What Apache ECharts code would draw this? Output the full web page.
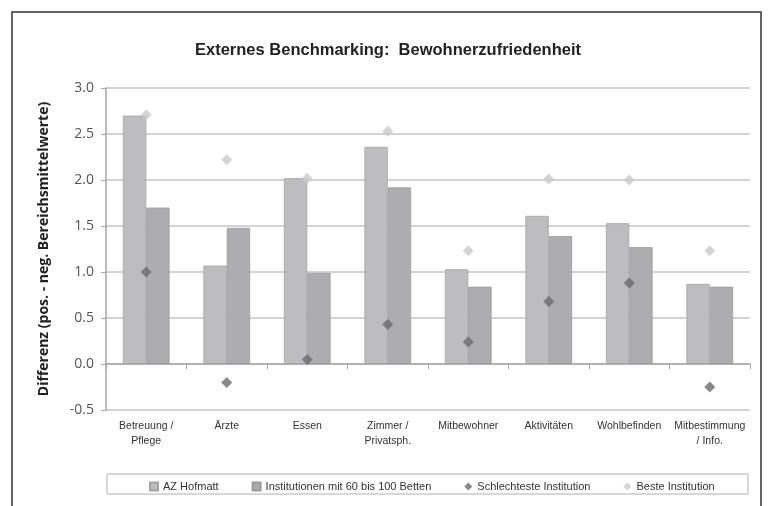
<!DOCTYPE html>
<html><head><meta charset="utf-8">
<script src="https://cdn.jsdelivr.net/npm/echarts@6/dist/echarts.min.js"></script>
<style>html,body{margin:0;padding:0;background:#fff}#c{width:768px;height:506px}</style>
</head><body><div id="c"></div>
<script>
var categories = ['Betreuung /\nPflege', 'Ärzte', 'Essen', 'Zimmer /\nPrivatsph.', 'Mitbewohner', 'Aktivitäten', 'Wohlbefinden', 'Mitbestimmung\n/ Info.'];
var azHofmatt = [2.70, 1.07, 2.02, 2.36, 1.03, 1.61, 1.53, 0.87];
var institutionen = [1.70, 1.48, 0.99, 1.92, 0.84, 1.39, 1.27, 0.84];
var schlechteste = [1.00, -0.20, 0.05, 0.43, 0.24, 0.68, 0.88, -0.25];
var beste = [2.71, 2.22, 2.02, 2.53, 1.23, 2.01, 2.00, 1.23];
var yTicks = { min: -0.5, max: 3.0, interval: 0.5 };

var chart = echarts.init(document.getElementById('c'), null, { renderer: 'canvas' });
var font = '"Liberation Sans", Arial, sans-serif';
chart.setOption({
  animation: false,
  backgroundColor: '#fff',
  graphic: [
    { type: 'rect', shape: { x: 12, y: 12, width: 749, height: 520 }, style: { fill: 'none', stroke: '#333', lineWidth: 1.5 }, z: 0 },
    { type: 'rect', shape: { x: 107, y: 474, width: 641, height: 20 }, style: { fill: 'none', stroke: '#b0b0b0', lineWidth: 1 }, z: 0 }
  ],
  title: {
    text: 'Externes Benchmarking:  Bewohnerzufriedenheit',
    left: 383, top: 37, textAlign: 'center',
    textStyle: { fontFamily: font, fontSize: 16.5, fontWeight: 'bold', color: '#222' }
  },
  legend: {
    top: 476, left: 144,
    itemWidth: 8, itemHeight: 8, itemGap: 33,
    textStyle: { fontFamily: font, fontSize: 11, color: '#333' },
    data: [
      { name: 'AZ Hofmatt', icon: 'rect' },
      { name: 'Institutionen mit 60 bis 100 Betten', icon: 'rect' },
      { name: 'Schlechteste Institution', icon: 'diamond' },
      { name: 'Beste Institution', icon: 'diamond' }
    ]
  },
  grid: { left: 106, right: 18, top: 88, bottom: 96 },
  xAxis: {
    type: 'category', data: categories,
    axisLine: { onZero: true, lineStyle: { color: '#a6a6a6', width: 1.5 } },
    axisTick: { show: true, length: 5, lineStyle: { color: '#a6a6a6' } },
    axisLabel: { fontFamily: font, fontSize: 10.5, color: '#333', interval: 0, lineHeight: 15, margin: 9 }
  },
  yAxis: {
    type: 'value', min: yTicks.min, max: yTicks.max, interval: yTicks.interval,
    name: 'Differenz (pos. - neg. Bereichsmittelwerte)',
    nameLocation: 'middle', nameGap: 55, nameRotate: 90,
    nameTextStyle: { fontFamily: '"Open Sans", Calibri, sans-serif', fontSize: 14, fontWeight: 'bold', color: '#222' },
    axisLine: { show: true, lineStyle: { color: '#a6a6a6', width: 1.5 } },
    axisTick: { show: true, length: 5, inside: false, lineStyle: { color: '#a6a6a6' } },
    splitLine: { lineStyle: { color: '#c4c4c4', width: 1.5 } },
    axisLabel: { fontFamily: '"Open Sans", Calibri, sans-serif', fontSize: 14, color: '#555', margin: 12,
      formatter: function (v) { return v.toFixed(1); } }
  },
  series: [
    { name: 'AZ Hofmatt', type: 'bar', data: azHofmatt, barGap: '0%', barCategoryGap: '42%',
      itemStyle: { color: '#bdbdbf', borderColor: '#a3a3a5', borderWidth: 0.8 } },
    { name: 'Institutionen mit 60 bis 100 Betten', type: 'bar', data: institutionen,
      itemStyle: { color: '#adadaf', borderColor: '#999a9c', borderWidth: 0.8 } },
    { name: 'Schlechteste Institution', type: 'scatter', data: schlechteste, symbol: 'diamond', symbolSize: 11,
      itemStyle: { color: '#6b6b6b' }, z: 5 },
    { name: 'Beste Institution', type: 'scatter', data: beste, symbol: 'diamond', symbolSize: 11,
      itemStyle: { color: '#cacaca' }, z: 5 }
  ]
});
</script></body></html>
